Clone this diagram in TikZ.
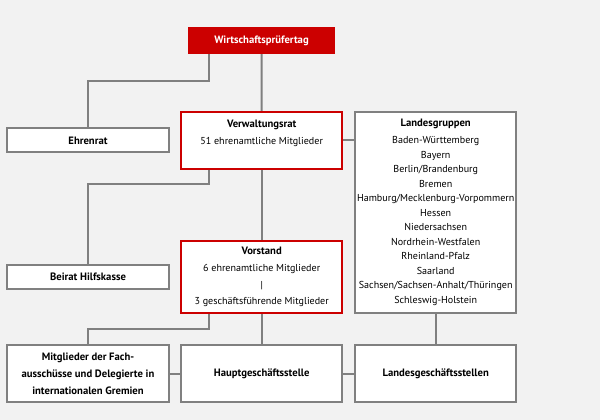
\documentclass[tikz,border=0pt]{standalone}
\usepackage{fontspec}
\setmainfont{PT Sans}
\definecolor{wpkred}{RGB}{204,0,0}
\definecolor{wpkgray}{RGB}{128,128,128}
\definecolor{wpkbg}{RGB}{242,242,242}
\newcommand{\boxtitle}[1]{{\fontsize{8}{12.5}\selectfont\bfseries #1}}
\tikzset{every picture/.style={line width=0.75pt},
  orgbox/.style={draw=wpkgray, fill=white, line width=1.5pt, minimum width=121pt, minimum height=18pt,
    inner sep=0pt, align=center, font=\fontsize{7.55}{12.5}\selectfont},
  redbox/.style={orgbox, draw=wpkred},
  boldbox/.style={orgbox, font=\fontsize{8}{12.5}\selectfont\bfseries},
  topbox/.style={fill=wpkred, text=white, minimum width=110.7pt, minimum height=19.8pt, inner sep=0pt,
    font=\fontsize{8}{12.5}\selectfont\bfseries},
  link/.style={draw=wpkgray, line width=1.5pt}}

\begin{document}
\begin{tikzpicture}[x=0.75pt,y=0.75pt,yscale=-1,xscale=1]
%background, 600 x 420
\path[use as bounding box, fill=wpkbg] (0,0) rectangle (600,420);
\coordinate (branch) at (209.3,0);

%Shape: Boxes
\node [topbox] (wpt) at (261.5,40.5) {Wirtschaftsprüfertag};
\node [boldbox] (ehrenrat) at (88,140.5) {Ehrenrat};
\node [redbox, minimum height=43pt] (vrat) at (261.7,140.5) {\boxtitle{Verwaltungsrat}\\51 ehrenamtliche Mitglieder\\\mbox{}};
\node [orgbox, minimum height=151pt, font=\fontsize{7.55}{10.9}\selectfont] (lgruppen) at (435.7,212.5) {\boxtitle{Landesgruppen}\\[1.6pt]
  Baden-Württemberg\\Bayern\\Berlin/Brandenburg\\Bremen\\Hamburg/Mecklenburg-Vorpommern\\Hessen\\Niedersachsen\\Nordrhein-Westfalen\\Rheinland-Pfalz\\Saarland\\Sachsen/Sachsen-Anhalt/Thüringen\\Schleswig-Holstein};
\node [boldbox] (beirat) at (88,277.2) {Beirat Hilfskasse};
\node [redbox, minimum height=54pt] (vorstand) at (261.7,277.3) {\boxtitle{Vorstand}\\6 ehrenamtliche Mitglieder\\|\\3 geschäftsführende Mitglieder};
\node [boldbox, minimum height=43pt] (mitglieder) at (88,373.8) {Mitglieder der Fach-\\ausschüsse und Delegierte in\\internationalen Gremien};
\node [boldbox, minimum height=43pt] (haupt) at (261.7,373.8) {Hauptgeschäftsstelle};
\node [boldbox, minimum height=43pt] (lgst) at (435.7,373.8) {Landesgeschäftsstellen};

%Lines
\draw [link] (wpt.south) -- (vrat.north);
\draw [link] (wpt.south -| branch) -- ++(0,27.3) -| (ehrenrat.north);
\draw [link] (vrat.east) -- (lgruppen.west |- vrat.east);
\draw [link] (vrat.south) -- (vorstand.north);
\draw [link] (vrat.south -| branch) -- ++(0,14.3) -| (beirat.north);
\draw [link] (vorstand.south) -- (haupt.north);
\draw [link] (vorstand.south -| branch) -- ++(0,15) -| (mitglieder.north);
\draw [link] (lgruppen.south) -- (lgst.north);
\draw [link] (mitglieder.east) -- (haupt.west);
\draw [link] (haupt.east) -- (lgst.west);

\end{tikzpicture}
\end{document}
